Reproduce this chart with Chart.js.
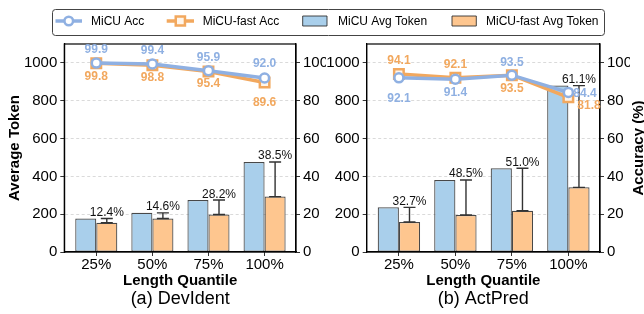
<!DOCTYPE html>
<html><head><meta charset="utf-8">
<script src="https://cdn.jsdelivr.net/npm/chart.js@4.4.1/dist/chart.umd.min.js"></script>
<style>
html,body{margin:0;padding:0;background:#fff;}
#wrap{position:relative;width:644px;height:314px;overflow:hidden;}
canvas{position:absolute;left:0;top:0;}
</style></head><body>
<div id="wrap">
<canvas id="c1" width="644" height="314"></canvas>
<canvas id="c2" width="644" height="314"></canvas>
</div>
<script>
// ---------- data ----------
const categories = ['25%', '50%', '75%', '100%'];
const tokenTicks = [0, 200, 400, 600, 800, 1000];
const accTicks = [0, 20, 40, 60, 80, 100];

const devMicuAcc = [99.9, 99.4, 95.9, 92.0];
const devFastAcc = [99.8, 98.8, 95.4, 89.6];
const devMicuTok = [177, 207, 275, 476];
const devFastTok = [155, 177, 198, 293];
const devReduction = ['12.4%', '14.6%', '28.2%', '38.5%'];

const actMicuAcc = [92.1, 91.4, 93.5, 84.4];
const actFastAcc = [94.1, 92.1, 93.5, 81.8];
const actMicuTok = [236, 381, 443, 880];
const actFastTok = [159, 196, 218, 342];
const actReduction = ['32.7%', '48.5%', '51.0%', '61.1%'];

// ---------- styles ----------
const FONT = "'Liberation Sans', Arial, sans-serif";
const BLUE_LINE = '#8fb0e2';
const ORANGE_LINE = '#f2a85e';
const BLUE_BAR = '#a9cfeb';
const ORANGE_BAR = '#fec68f';
const EDGE = 'rgba(40,40,40,0.85)';
Chart.defaults.font.family = FONT;
Chart.defaults.color = '#000';

// label placement for accuracy values: [dx, dy, align]
const devLabelPos = {
  micu: [[0, -14, 'center'], [0, -14, 'center'], [0, -14, 'center'], [0, -15, 'center']],
  fast: [[0, 12, 'center'], [0, 12, 'center'], [0, 11, 'center'], [0, 19, 'center']]
};
const actLabelPos = {
  micu: [[0, 20, 'center'], [0, 13, 'center'], [0, -14, 'center'], [5, 0, 'left']],
  fast: [[0, -14, 'center'], [0, -14, 'center'], [0, 12, 'center'], [9, 7, 'left']]
};

function drawCenteredText(ctx, text, x, cy, size, weight, color, align) {
  ctx.font = `${weight} ${size}px ${FONT}`;
  ctx.fillStyle = color;
  ctx.textAlign = align || 'center';
  ctx.textBaseline = 'alphabetic';
  ctx.fillText(text, x, cy + 0.36 * size);
}

const decorPlugin = {
  id: 'decor',
  afterDatasetsDraw(chart, args, o) {
    const ctx = chart.ctx;
    ctx.save();
    const mb = chart.getDatasetMeta(2).data;
    const fb = chart.getDatasetMeta(3).data;
    ctx.strokeStyle = '#333';
    ctx.lineWidth = 1.4;
    for (let i = 0; i < fb.length; i++) {
      const x = fb[i].x, y0 = fb[i].y, y1 = mb[i].y;
      ctx.beginPath();
      ctx.moveTo(x, y0); ctx.lineTo(x, y1);
      ctx.moveTo(x - 6, y1); ctx.lineTo(x + 6, y1);
      ctx.moveTo(x - 6, y0); ctx.lineTo(x + 6, y0);
      ctx.stroke();
    }
    for (let i = 0; i < fb.length; i++) {
      ctx.font = `12px ${FONT}`;
      ctx.fillStyle = '#111';
      ctx.textAlign = 'center';
      ctx.textBaseline = 'alphabetic';
      ctx.fillText(o.reduction[i], fb[i].x, mb[i].y - 2.5);
    }
    ctx.restore();
  },
  afterDraw(chart, args, o) {
    const ctx = chart.ctx;
    const ca = chart.chartArea;
    ctx.save();
    ctx.strokeStyle = '#000';
    ctx.lineWidth = 1.2;
    ctx.strokeRect(ca.left, ca.top, ca.right - ca.left, ca.bottom - ca.top);
    const ml = chart.getDatasetMeta(0).data;
    const fl = chart.getDatasetMeta(1).data;
    for (let i = 0; i < ml.length; i++) {
      const pm = o.labelPos.micu[i], pf = o.labelPos.fast[i];
      drawCenteredText(ctx, o.micuAcc[i].toFixed(1), ml[i].x + pm[0], ml[i].y + pm[1], 12, 'bold', BLUE_LINE, pm[2]);
      drawCenteredText(ctx, o.fastAcc[i].toFixed(1), fl[i].x + pf[0], fl[i].y + pf[1], 12, 'bold', ORANGE_LINE, pf[2]);
    }
    const cx = (ca.left + ca.right) / 2;
    drawCenteredText(ctx, 'Length Quantile', cx, 280, 15, 'bold', '#000');
    ctx.font = `18px ${FONT}`;
    ctx.fillStyle = '#000';
    ctx.textAlign = 'center';
    ctx.textBaseline = 'alphabetic';
    ctx.fillText(o.subtitle, cx, 304);
    const cy = (ca.top + ca.bottom) / 2;
    if (o.leftTitle) {
      ctx.save();
      ctx.translate(19, cy);
      ctx.rotate(-Math.PI / 2);
      ctx.font = `bold 15px ${FONT}`;
      ctx.textAlign = 'center';
      ctx.textBaseline = 'alphabetic';
      ctx.fillText(o.leftTitle, 0, 0);
      ctx.restore();
    }
    if (o.rightTitle) {
      ctx.save();
      ctx.translate(643, cy);
      ctx.rotate(-Math.PI / 2);
      ctx.font = `bold 15px ${FONT}`;
      ctx.textAlign = 'center';
      ctx.textBaseline = 'alphabetic';
      ctx.fillText(o.rightTitle, 0, 0);
      ctx.restore();
    }
    if (o.legend) drawLegend(ctx, chart);
    ctx.restore();
  }
};

function drawLegend(ctx, chart) {
  const ds = chart.data.datasets;
  const top = 9, bottom = 35, left = 52, right = 604, yc = 21;
  ctx.save();
  ctx.beginPath();
  ctx.roundRect(left + 0.5, top + 0.5, right - left, bottom - top, 3);
  ctx.fillStyle = '#fff';
  ctx.fill();
  ctx.strokeStyle = '#444';
  ctx.lineWidth = 1;
  ctx.stroke();
  ctx.strokeStyle = BLUE_LINE; ctx.lineWidth = 3.5;
  ctx.beginPath(); ctx.moveTo(55.5, yc); ctx.lineTo(82, yc); ctx.stroke();
  ctx.beginPath(); ctx.arc(68.75, yc, 4.3, 0, Math.PI * 2);
  ctx.fillStyle = '#fff'; ctx.fill(); ctx.lineWidth = 2.5; ctx.stroke();
  ctx.strokeStyle = ORANGE_LINE; ctx.lineWidth = 3.5;
  ctx.beginPath(); ctx.moveTo(166.7, yc); ctx.lineTo(194, yc); ctx.stroke();
  ctx.fillStyle = '#fff5ea'; ctx.lineWidth = 2.5;
  ctx.beginPath(); ctx.rect(180.35 - 4.6, yc - 4.6, 9.2, 9.2); ctx.fill(); ctx.stroke();
  ctx.lineWidth = 1;
  ctx.strokeStyle = EDGE;
  ctx.fillStyle = BLUE_BAR;
  ctx.beginPath(); ctx.rect(302.7, yc - 5, 24.3, 10); ctx.fill(); ctx.stroke();
  ctx.fillStyle = ORANGE_BAR;
  ctx.beginPath(); ctx.rect(452, yc - 5, 24.3, 10); ctx.fill(); ctx.stroke();
  ctx.font = `12px ${FONT}`;
  ctx.fillStyle = '#000';
  ctx.textAlign = 'left';
  ctx.textBaseline = 'alphabetic';
  const ty = yc + 0.36 * 12;
  ctx.fillText(ds[0].label, 91, ty);
  ctx.fillText(ds[1].label, 202.7, ty);
  ctx.fillText(ds[2].label, 338, ty);
  ctx.fillText(ds[3].label, 486, ty);
  ctx.restore();
}

function pts(arr) { return arr.map((v, i) => ({ x: i, y: v })); }

function makePanel(id, d) {
  return new Chart(document.getElementById(id), {
    data: {
      datasets: [
        { type: 'line', label: 'MiCU Acc', data: pts(d.micuAcc), yAxisID: 'yAcc', order: 0,
          borderColor: BLUE_LINE, borderWidth: 3.5, pointStyle: 'circle', pointRadius: 4.5,
          pointBorderWidth: 2.5, pointBackgroundColor: '#fff', pointBorderColor: BLUE_LINE, tension: 0, clip: false },
        { type: 'line', label: 'MiCU-fast Acc', data: pts(d.fastAcc), yAxisID: 'yAcc', order: 1,
          borderColor: ORANGE_LINE, borderWidth: 3.5, pointStyle: 'rect', pointRadius: 6.7,
          pointBorderWidth: 2.5, pointBackgroundColor: '#fff5ea', pointBorderColor: ORANGE_LINE, tension: 0, clip: false },
        { type: 'bar', label: 'MiCU Avg Token', data: pts(d.micuTok), yAxisID: 'yTok', order: 2,
          backgroundColor: BLUE_BAR, borderColor: EDGE, borderWidth: 1.2, borderSkipped: false,
          categoryPercentage: 0.75, barPercentage: 1.0 },
        { type: 'bar', label: 'MiCU-fast Avg Token', data: pts(d.fastTok), yAxisID: 'yTok', order: 3,
          backgroundColor: ORANGE_BAR, borderColor: EDGE, borderWidth: 1.2, borderSkipped: false,
          categoryPercentage: 0.75, barPercentage: 1.0 }
      ]
    },
    options: {
      responsive: false,
      animation: false,
      devicePixelRatio: 1,
      layout: { padding: { left: d.padLeft, right: d.padRight, top: 44, bottom: 0 } },
      plugins: {
        legend: { display: false },
        tooltip: { enabled: false },
        decor: {
          reduction: d.reduction, micuAcc: d.micuAcc, fastAcc: d.fastAcc, labelPos: d.labelPos,
          subtitle: d.subtitle, leftTitle: d.leftTitle, rightTitle: d.rightTitle, legend: d.legend
        }
      },
      scales: {
        x: {
          type: 'linear', position: 'bottom', min: -0.57, max: 3.56, offset: false,
          afterBuildTicks: s => { s.ticks = categories.map((_, i) => ({ value: i })); },
          afterFit: s => { s.height = 62; },
          ticks: { callback: v => categories[v], font: { size: 15 }, color: '#000', padding: 0, maxRotation: 0, autoSkip: false },
          grid: { offset: false, drawOnChartArea: false, drawTicks: true, tickLength: 4, tickColor: '#000', tickWidth: 0.8 },
          border: { display: true, color: '#000', width: 1.2 }
        },
        yTok: {
          type: 'linear', position: 'left', min: 0, max: 1100,
          afterBuildTicks: s => { s.ticks = tokenTicks.map(v => ({ value: v })); },
          afterFit: s => { s.width = 64.3; },
          ticks: { callback: v => String(v), font: { size: 15 }, color: '#000', padding: 3 },
          grid: { color: c => (c.tick && c.tick.value === 0) ? 'rgba(0,0,0,0)' : '#d0d0d0',
                  lineWidth: 0.8, tickLength: 4, tickColor: '#000', tickWidth: 0.8 },
          border: { display: true, color: '#000', width: 1.2, dash: [3, 2.5] }
        },
        yAcc: {
          type: 'linear', position: 'right', min: 0, max: 110,
          afterBuildTicks: s => { s.ticks = accTicks.map(v => ({ value: v })); },
          afterFit: s => { s.width = 30; },
          ticks: { callback: v => String(v), font: { size: 15 }, color: '#000', padding: 3 },
          grid: { drawOnChartArea: false, tickLength: 4, tickColor: '#000', tickWidth: 0.8 },
          border: { display: true, color: '#000', width: 1.2 }
        }
      }
    },
    plugins: [decorPlugin]
  });
}

makePanel('c1', {
  micuAcc: devMicuAcc, fastAcc: devFastAcc, micuTok: devMicuTok, fastTok: devFastTok,
  reduction: devReduction, labelPos: devLabelPos, subtitle: '(a) DevIdent',
  leftTitle: 'Average Token', rightTitle: null, legend: true,
  padLeft: 0, padRight: 644 - 296 - 30
});
makePanel('c2', {
  micuAcc: actMicuAcc, fastAcc: actFastAcc, micuTok: actMicuTok, fastTok: actFastTok,
  reduction: actReduction, labelPos: actLabelPos, subtitle: '(b) ActPred',
  leftTitle: null, rightTitle: 'Accuracy (%)', legend: false,
  padLeft: 366.7 - 64.3, padRight: 644 - 600 - 30
});
</script>
</body></html>
